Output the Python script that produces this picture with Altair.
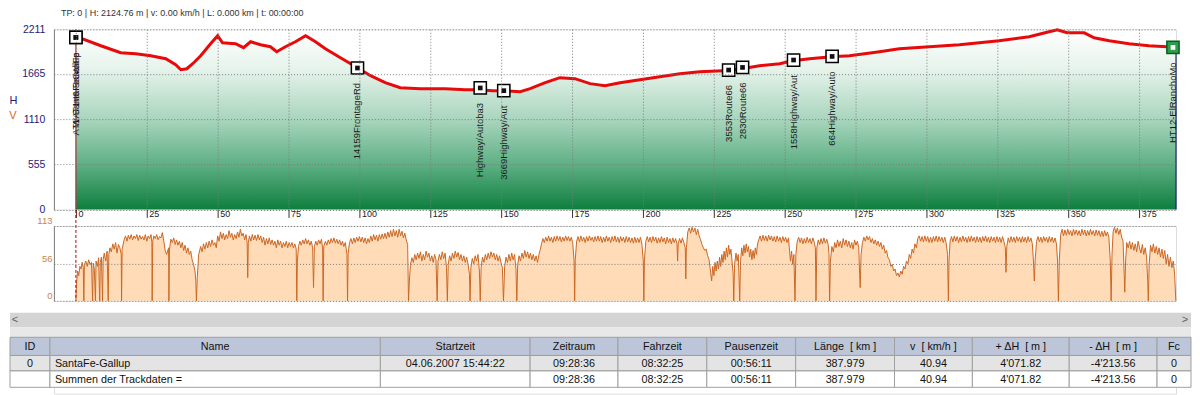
import altair as alt
import pandas as pd

# ---------------- data ----------------
header_text = "TP: 0 | H: 2124.76 m | v: 0.00 km/h | L: 0.000 km | t: 00:00:00"

elev_km = [0.0, 8.8, 15.8, 21.1, 26.4, 31.7, 35.2, 37.0, 39.1, 41.2,
           44.0, 47.5, 50.0, 51.7, 56.3, 59.1, 61.6, 65.1, 68.6, 70.8,
           73.9, 77.4, 81.0, 84.5, 88.0, 93.3, 99.3, 103.9, 109.1, 114.4,
           121.5, 130.3, 137.3, 142.6, 146.8, 151.0, 156.7, 160.2, 165.5, 170.7,
           176.0, 181.3, 186.6, 191.9, 198.9, 205.9, 213.0, 220.0, 230.2, 234.8,
           241.1, 248.2, 252.8, 258.7, 266.5, 272.8, 283.4, 290.4, 301.0, 311.6,
           325.6, 336.2, 343.2, 346.1, 349.6, 355.6, 359.1, 364.4, 371.4, 378.4,
           387.979]
elev_h = [2125, 2009, 1923, 1911, 1887, 1850, 1776, 1715, 1727, 1789,
          1887, 2034, 2132, 2046, 2034, 1985, 2058, 2021, 1997, 1936,
          1997, 2058, 2132, 2058, 1972, 1862, 1740, 1642, 1556, 1495,
          1482, 1482, 1470, 1470, 1458, 1458, 1446, 1482, 1556, 1617,
          1605, 1544, 1519, 1556, 1593, 1629, 1666, 1691, 1705, 1727,
          1764, 1789, 1825, 1850, 1874, 1887, 1936, 1972, 1997, 2021,
          2070, 2119, 2181, 2205, 2168, 2168, 2107, 2070, 2034, 2009,
          1991]

wp_km = [0.0, 0.0, 99.3, 142.6, 150.9, 230.2, 235.1, 253.1, 266.7, 386.9]
wp_h = [2111, 2111, 1736, 1491, 1458, 1711, 1743, 1834, 1878, 1988]
wp_name = ["WAT1n6-SantaFe", "AT1-SantaFeGallup", "14159FrontageRd", "Highway/Autoba3",
           "3669Highway/Aut", "3553Route66", "2830Route66", "1558Highway/Aut",
           "664Highway/Auto", "HT12-ElRanchoMo"]
wp_kind = ["wp"] * 9 + ["end"]

speed_profile = [
    (0.0, 0), (0.2, 25), (0.6, 45), (1.0, 38), (1.4, 52), (1.8, 48), (2.2, 58), (2.6, 50), (2.8, 0),
    (3.0, 55), (3.5, 60), (4.0, 52), (4.5, 62), (5.0, 55), (5.5, 58), (5.9, 0), (6.1, 57), (6.5, 48),
    (6.9, 0), (7.1, 60), (7.6, 52), (8.0, 65), (8.4, 0), (8.6, 58), (9.0, 66), (9.4, 0), (9.6, 62),
    (10.0, 72), (10.5, 60), (11.0, 75), (11.4, 0), (11.6, 70), (12.0, 80), (12.5, 74), (13.0, 86),
    (13.5, 78), (14.0, 88), (14.5, 72), (15.0, 85), (15.5, 80), (16.0, 70), (16.1, 0), (16.3, 78),
    (17.0, 92), (17.5, 98), (18.0, 90), (18.5, 99), (19.0, 93), (19.5, 100), (20.0, 92), (20.5, 98),
    (21.0, 94), (21.5, 100), (22.0, 91), (22.5, 99), (23.0, 93), (23.5, 97), (24.0, 92), (24.5, 100),
    (25.0, 90), (25.5, 98), (26.0, 94), (26.5, 100), (26.8, 88), (26.9, 0), (27.1, 90), (27.5, 98),
    (28.0, 94), (28.5, 100), (29.0, 92), (29.5, 97), (30.0, 95), (30.5, 103), (31.0, 90), (31.5, 76),
    (32.0, 70), (32.7, 80), (32.8, 0), (33.0, 78), (33.5, 93), (34.0, 88), (34.5, 95), (35.0, 85),
    (35.5, 92), (36.0, 84), (36.5, 90), (37.0, 80), (37.5, 88), (38.0, 76), (38.5, 84), (39.0, 72),
    (39.5, 80), (40.0, 70), (40.5, 75), (41.0, 62), (41.5, 55), (42.0, 45), (42.3, 30), (42.5, 0),
    (42.8, 35), (43.3, 70), (44.0, 82), (44.5, 74), (45.0, 86), (45.5, 78), (46.0, 88), (46.5, 80),
    (47.0, 90), (47.5, 82), (48.0, 92), (48.5, 84), (49.0, 88), (49.5, 80), (50.0, 98), (50.5, 90),
    (51.0, 104), (51.5, 94), (52.0, 102), (52.5, 92), (53.0, 100), (53.5, 94), (54.0, 106), (54.5, 96),
    (55.0, 102), (55.5, 92), (56.0, 100), (56.5, 94), (57.0, 104), (57.5, 96), (58.0, 108), (58.5, 98),
    (59.0, 102), (59.5, 92), (60.0, 100), (60.4, 88), (60.6, 35), (60.8, 88), (61.2, 98), (61.7, 90),
    (62.2, 100), (62.7, 92), (63.2, 99), (63.7, 91), (64.2, 100), (64.7, 92), (65.2, 98), (65.7, 88),
    (66.2, 96), (66.7, 84), (67.2, 94), (67.7, 86), (68.2, 95), (68.7, 85), (69.2, 92), (69.7, 84),
    (70.2, 90), (70.7, 80), (71.2, 92), (71.7, 84), (72.2, 90), (72.7, 80), (73.2, 88), (73.7, 82),
    (74.2, 90), (74.7, 80), (75.2, 88), (75.7, 82), (76.2, 88), (76.7, 80), (77.2, 86), (77.7, 78),
    (77.9, 0), (78.1, 60), (78.5, 82), (79.0, 90), (79.5, 84), (80.0, 92), (80.5, 86), (81.0, 94),
    (81.5, 86), (82.0, 92), (82.5, 84), (83.0, 90), (83.5, 80), (83.8, 20), (84.1, 82), (84.6, 90),
    (85.1, 84), (85.6, 92), (86.1, 86), (86.6, 93), (87.0, 80), (87.2, 0), (87.4, 82), (88.0, 90),
    (88.5, 84), (89.0, 92), (89.5, 86), (90.0, 94), (90.5, 88), (91.0, 95), (91.5, 87), (92.0, 93),
    (92.5, 86), (93.0, 92), (93.5, 84), (94.0, 90), (94.5, 82), (95.0, 88), (95.6, 70), (95.8, 0),
    (96.0, 72), (96.5, 88), (97.0, 94), (97.5, 86), (98.0, 95), (98.5, 88), (99.0, 96), (99.5, 90),
    (100.0, 97), (100.5, 89), (101.0, 96), (101.5, 88), (102.0, 95), (102.5, 86), (103.0, 94),
    (103.5, 88), (104.0, 98), (104.5, 90), (105.0, 100), (105.5, 92), (106.0, 99), (106.5, 90),
    (107.0, 100), (107.5, 93), (108.0, 101), (108.5, 94), (109.0, 102), (109.5, 94), (110.0, 104),
    (110.5, 96), (111.0, 106), (111.5, 97), (112.0, 108), (112.5, 98), (113.0, 106), (113.5, 96),
    (114.0, 108), (114.5, 98), (115.0, 105), (115.5, 95), (116.0, 102), (116.5, 92), (117.0, 85),
    (117.3, 0), (117.6, 30), (118.0, 55), (118.5, 65), (119.0, 58), (119.5, 70), (120.0, 62),
    (120.5, 72), (121.0, 64), (121.5, 74), (122.0, 60), (122.5, 70), (123.0, 62), (123.5, 75),
    (124.0, 66), (124.5, 72), (125.0, 60), (125.5, 68), (126.0, 58), (126.5, 70), (127.0, 62),
    (127.4, 0), (127.7, 60), (128.2, 70), (128.7, 62), (129.2, 74), (129.7, 64), (130.2, 72),
    (130.7, 50), (131.0, 0), (131.3, 55), (131.8, 68), (132.3, 60), (132.8, 72), (133.3, 64),
    (133.8, 75), (134.3, 66), (134.8, 73), (135.3, 62), (135.8, 70), (136.3, 60), (136.8, 68),
    (137.3, 58), (137.8, 66), (138.3, 55), (138.8, 40), (139.0, 0), (139.3, 50), (139.8, 64),
    (140.3, 56), (140.8, 68), (141.3, 60), (141.8, 70), (142.3, 45), (142.6, 0), (142.9, 50),
    (143.4, 66), (143.9, 58), (144.4, 70), (144.9, 62), (145.4, 72), (145.9, 64), (146.4, 74),
    (146.9, 66), (147.4, 72), (147.9, 62), (148.4, 70), (148.9, 60), (149.4, 68), (149.9, 58),
    (150.4, 50), (150.8, 0), (151.2, 52), (151.7, 66), (152.2, 58), (152.7, 70), (153.2, 60),
    (153.7, 72), (154.2, 62), (154.7, 70), (155.2, 48), (155.5, 0), (155.8, 55), (156.3, 68),
    (156.8, 60), (157.3, 72), (157.8, 64), (158.3, 76), (158.8, 66), (159.3, 74), (159.8, 64),
    (160.3, 72), (160.8, 62), (161.3, 70), (161.8, 60), (162.3, 68), (162.8, 58), (163.3, 70),
    (163.8, 78), (164.2, 86), (164.7, 94), (165.2, 88), (165.7, 96), (166.2, 90), (166.7, 98),
    (167.2, 90), (167.7, 96), (168.2, 88), (168.7, 97), (169.2, 90), (169.7, 98), (170.2, 91),
    (170.7, 97), (171.2, 89), (171.7, 96), (172.2, 90), (172.7, 98), (173.2, 91), (173.7, 97),
    (174.2, 90), (174.7, 96), (175.2, 88), (175.7, 60), (175.9, 0), (176.1, 62), (176.6, 90),
    (177.1, 97), (177.6, 89), (178.1, 98), (178.6, 90), (179.1, 96), (179.6, 88), (180.1, 97),
    (180.6, 90), (181.1, 98), (181.6, 91), (182.1, 96), (182.6, 89), (183.1, 97), (183.6, 90),
    (184.1, 98), (184.6, 90), (185.1, 97), (185.6, 88), (186.1, 96), (186.6, 89), (187.1, 98),
    (187.6, 90), (188.1, 96), (188.6, 88), (189.1, 97), (189.6, 90), (190.1, 98), (190.6, 89),
    (191.1, 96), (191.6, 88), (192.1, 97), (192.6, 90), (193.1, 96), (193.6, 88), (194.1, 97),
    (194.6, 89), (195.1, 96), (195.6, 88), (196.1, 95), (196.6, 87), (197.1, 96), (197.6, 88),
    (198.1, 95), (198.6, 88), (199.1, 96), (199.6, 86), (200.1, 60), (200.3, 0), (200.5, 62),
    (201.0, 90), (201.5, 97), (202.0, 89), (202.5, 96), (203.0, 88), (203.5, 97), (204.0, 90),
    (204.5, 96), (205.0, 87), (205.5, 95), (206.0, 88), (206.5, 97), (207.0, 89), (207.5, 95),
    (208.0, 86), (208.5, 96), (209.0, 88), (209.5, 94), (210.0, 86), (210.5, 95), (211.0, 88),
    (211.5, 94), (212.0, 86), (212.2, 60), (212.4, 86), (212.9, 94), (213.4, 87), (213.9, 95),
    (214.4, 88), (214.9, 80), (215.1, 33), (215.3, 80), (215.8, 104), (216.3, 110), (216.8, 102),
    (217.3, 111), (217.8, 104), (218.3, 110), (218.8, 100), (219.3, 108), (219.8, 98), (220.3, 92),
    (220.8, 85), (221.3, 80), (221.8, 76), (222.3, 78), (222.8, 68), (223.3, 62), (223.8, 45),
    (224.2, 30), (224.6, 52), (225.0, 38), (225.4, 58), (225.8, 45), (226.2, 60), (226.6, 48),
    (227.0, 66), (227.4, 52), (227.8, 70), (228.2, 58), (228.6, 75), (229.0, 62), (229.4, 80),
    (229.8, 66), (230.2, 84), (230.6, 70), (231.0, 78), (231.4, 60), (231.8, 40), (232.0, 0),
    (232.3, 55), (232.8, 72), (233.2, 60), (233.6, 70), (233.9, 30), (234.1, 0), (234.4, 60),
    (234.8, 80), (235.2, 68), (235.6, 84), (236.0, 72), (236.4, 86), (236.8, 74), (237.2, 82),
    (237.6, 66), (238.0, 78), (238.4, 62), (238.8, 76), (239.2, 64), (239.6, 80), (240.0, 70),
    (240.4, 86), (240.8, 92), (241.3, 98), (241.8, 90), (242.3, 99), (242.8, 91), (243.3, 98),
    (243.8, 90), (244.3, 99), (244.8, 92), (245.3, 98), (245.8, 90), (246.3, 97), (246.8, 89),
    (247.3, 98), (247.8, 90), (248.3, 96), (248.8, 88), (249.3, 97), (249.8, 90), (250.3, 96),
    (250.8, 88), (251.3, 95), (251.6, 80), (252.0, 60), (252.4, 75), (252.8, 55), (253.2, 70),
    (253.6, 0), (253.9, 70), (254.4, 90), (254.9, 96), (255.4, 88), (255.9, 95), (256.4, 86),
    (256.9, 94), (257.4, 87), (257.9, 96), (258.4, 88), (258.9, 94), (259.4, 86), (259.9, 95),
    (260.4, 88), (260.8, 80), (261.0, 0), (261.3, 80), (261.8, 92), (262.3, 85), (262.8, 94),
    (263.3, 86), (263.8, 95), (264.3, 87), (264.8, 93), (265.3, 85), (265.6, 70), (265.8, 0),
    (266.1, 60), (266.6, 82), (267.1, 74), (267.6, 88), (268.1, 80), (268.6, 92), (269.1, 82),
    (269.6, 90), (270.1, 80), (270.6, 94), (271.1, 84), (271.6, 92), (272.1, 82), (272.6, 90),
    (273.1, 80), (273.6, 88), (274.1, 78), (274.6, 92), (275.1, 84), (275.6, 90), (276.1, 80),
    (276.4, 40), (276.6, 20), (276.9, 70), (277.4, 88), (277.9, 96), (278.4, 90), (278.9, 98),
    (279.4, 92), (279.9, 97), (280.4, 88), (280.9, 94), (281.4, 86), (281.9, 92), (282.4, 84),
    (282.9, 90), (283.4, 82), (283.9, 88), (284.4, 78), (284.9, 84), (285.4, 72), (285.9, 76),
    (286.4, 65), (286.9, 62), (287.4, 52), (287.9, 55), (288.4, 45), (288.9, 48), (289.4, 38),
    (289.9, 42), (290.4, 36), (290.9, 45), (291.4, 40), (291.9, 52), (292.4, 48), (292.9, 60),
    (293.4, 56), (293.9, 70), (294.4, 64), (294.9, 78), (295.4, 72), (295.9, 86), (296.4, 80),
    (296.9, 94), (297.4, 98), (297.9, 90), (298.4, 97), (298.9, 89), (299.4, 98), (299.9, 90),
    (300.4, 97), (300.9, 88), (301.4, 96), (301.9, 88), (302.4, 97), (302.9, 90), (303.4, 98),
    (303.9, 89), (304.4, 97), (304.9, 90), (305.4, 96), (305.9, 88), (306.4, 96), (306.9, 88),
    (307.4, 70), (307.7, 0), (307.9, 60), (308.3, 90), (308.8, 97), (309.3, 89), (309.8, 98),
    (310.3, 90), (310.8, 97), (311.3, 88), (311.8, 96), (312.3, 89), (312.8, 98), (313.3, 90),
    (313.8, 96), (314.3, 88), (314.8, 97), (315.3, 89), (315.8, 98), (316.3, 90), (316.8, 96),
    (317.3, 88), (317.8, 97), (318.3, 89), (318.8, 96), (319.3, 88), (319.8, 97), (320.3, 90),
    (320.8, 98), (321.3, 89), (321.8, 96), (322.3, 88), (322.8, 97), (323.3, 90), (323.8, 96),
    (324.3, 88), (324.8, 97), (325.3, 89), (325.8, 96), (326.3, 88), (326.8, 97), (327.3, 89),
    (327.8, 80), (328.0, 43), (328.3, 82), (328.8, 95), (329.3, 88), (329.8, 97), (330.3, 89),
    (330.8, 96), (331.3, 88), (331.8, 97), (332.3, 90), (332.8, 96), (333.3, 88), (333.8, 97),
    (334.3, 89), (334.8, 96), (335.3, 88), (335.8, 97), (336.3, 89), (336.8, 95), (337.3, 86),
    (337.7, 60), (338.0, 30), (338.3, 62), (338.8, 90), (339.3, 97), (339.8, 89), (340.3, 96),
    (340.8, 88), (341.3, 97), (341.8, 90), (342.3, 96), (342.8, 88), (343.3, 97), (343.8, 89),
    (344.3, 96), (344.8, 88), (345.3, 95), (345.8, 86), (346.2, 60), (346.5, 0), (346.8, 60),
    (347.3, 100), (347.8, 108), (348.3, 98), (348.8, 107), (349.3, 99), (349.8, 108), (350.3, 100),
    (350.8, 106), (351.3, 98), (351.8, 108), (352.3, 100), (352.8, 107), (353.3, 99), (353.8, 106),
    (354.3, 98), (354.8, 108), (355.3, 100), (355.8, 107), (356.3, 98), (356.8, 106), (357.3, 99),
    (357.8, 108), (358.3, 100), (358.8, 106), (359.3, 98), (359.8, 107), (360.3, 99), (360.8, 106),
    (361.3, 97), (361.8, 105), (362.3, 97), (362.8, 106), (363.3, 98), (363.8, 104), (364.3, 96),
    (364.8, 60), (365.1, 0), (365.4, 70), (365.8, 104), (366.3, 111), (366.8, 102), (367.3, 110),
    (367.8, 100), (368.3, 108), (368.8, 96), (369.3, 90), (369.7, 40), (369.9, 13), (370.2, 60),
    (370.6, 88), (371.1, 80), (371.6, 90), (372.1, 78), (372.6, 88), (373.1, 76), (373.6, 86),
    (374.1, 74), (374.6, 90), (375.1, 80), (375.6, 72), (376.1, 85), (376.6, 70), (377.1, 80),
    (377.6, 66), (378.0, 30), (378.2, 0), (378.5, 55), (379.0, 84), (379.5, 74), (380.0, 86),
    (380.5, 72), (381.0, 82), (381.5, 70), (382.0, 80), (382.5, 66), (383.0, 78), (383.5, 64),
    (384.0, 76), (384.5, 56), (385.0, 70), (385.5, 52), (386.0, 66), (386.5, 50), (387.0, 60),
    (387.5, 40), (387.9, 0),
]

x_ticks = list(range(0, 376, 25))
h_ticks = [0, 555, 1110, 1665, 2211]
v_ticks = [0, 56, 113]

table_headers = ["ID", "Name", "Startzeit", "Zeitraum", "Fahrzeit", "Pausenzeit",
                 "L\u00e4nge\u00a0 [ km ]", "v\u00a0 [ km/h ]", "+ \u0394H\u00a0 [ m ]",
                 "- \u0394H\u00a0 [ m ]", "Fc"]
table_row1 = ["0", "SantaFe-Gallup", "04.06.2007 15:44:22", "09:28:36", "08:32:25", "00:56:11",
              "387.979", "40.94", "4'071.82", "-4'213.56", "0"]
table_row2 = ["", "Summen der Trackdaten =", "", "09:28:36", "08:32:25", "00:56:11",
              "387.979", "40.94", "4'071.82", "-4'213.56", "0"]

# ---------------- layout constants ----------------
KM_MIN, KM_MAX = -7.75, 387.979
PX_PER_KM = 2.8406
W = round((KM_MAX - KM_MIN) * PX_PER_KM)
H1, H2, H3 = 180.5, 75, 77
GAP = 16
col_edges = [0, 49, 380, 530, 618, 707, 796, 895, 973, 1070, 1158, 1197]
row_edges = [338, 358, 375, 393]
row_fills = ["#BCC6D8", "#E4E4E4", "#FFFFFF"]
FONT = "Liberation Sans"
GRID = dict(grid=True, gridColor="#7c7c7c", gridDash=[1, 2], gridWidth=1)

# ---------------- panel 1 : elevation ----------------
elev_df = pd.DataFrame({"km": elev_km, "h": elev_h})
wp_df = pd.DataFrame({"km": wp_km, "h": wp_h, "name": wp_name, "kind": wp_kind})
end_df = pd.DataFrame({"km": [elev_km[-1]], "h": [elev_h[-1]]})

x_scale = alt.Scale(domain=[KM_MIN, KM_MAX], nice=False, zero=False)
h_scale = alt.Scale(domain=[0, 2211], nice=False)

x_axis = alt.Axis(values=x_ticks, domain=False, ticks=True, tickSize=8, tickColor="#333333",
                  labelAlign="left", labelBaseline="top", labelPadding=-8, labelOffset=2,
                  labelFontSize=9, labelColor="#222222", title=None, zindex=1, **GRID)
h_axis = alt.Axis(values=h_ticks, format="d", domain=True, domainColor="#808080", ticks=False,
                  labelPadding=9, labelFontSize=10.5, labelColor="#1C1C78",
                  title="H", titleAngle=0, titleX=-41, titleY=71.5, titleColor="#1C1C78",
                  titleFontSize=11, titleFontWeight="normal", titleAlign="center",
                  titleBaseline="middle", zindex=1, **GRID)

gradient = {
    "gradient": "linear", "x1": 0, "x2": 0, "y1": 0, "y2": 1,
    "stops": [
        {"offset": 0.0, "color": "#FFFFFF"},
        {"offset": 0.22, "color": "#E6F3EB"},
        {"offset": 0.5, "color": "#A8D5BD"},
        {"offset": 0.75, "color": "#5EB084"},
        {"offset": 1.0, "color": "#0E7E3E"},
    ],
}

one = pd.DataFrame({"k": [0]})
bg = alt.Chart(one).mark_rect(color="white").encode(
    x=alt.value(-45), x2=alt.value(W + 15), y=alt.value(-20.5), y2=alt.value(0))
area = alt.Chart(elev_df).mark_area(color=gradient, interpolate="linear").encode(
    x=alt.X("km:Q", scale=x_scale, axis=x_axis),
    y=alt.Y("h:Q", scale=h_scale, axis=h_axis))
cursor = alt.Chart(pd.DataFrame({"km": [0.0]})).mark_rule(color="#D00000", strokeWidth=1).encode(
    x="km:Q")
end_rule = alt.Chart(end_df).mark_rule(color="#1A237E", strokeWidth=1.2).encode(
    x="km:Q", y="h:Q", y2=alt.datum(0))
line = alt.Chart(elev_df).mark_line(color="#E80A0A", strokeWidth=3).encode(x="km:Q", y="h:Q")
is_end = "datum.kind == 'end'"
boxes = alt.Chart(wp_df).mark_square(size=150, strokeWidth=1.5, filled=True, opacity=1).encode(
    x="km:Q", y="h:Q",
    fill=alt.condition(is_end, alt.value("#2E9E4A"), alt.value("#FFFFFF")),
    stroke=alt.condition(is_end, alt.value("#0B5E1E"), alt.value("#000000")))
dots = alt.Chart(wp_df).mark_square(size=22, filled=True, opacity=1).encode(
    x="km:Q", y="h:Q",
    color=alt.condition(is_end, alt.value("#FFFFFF"), alt.value("#111111")))
labels = alt.Chart(wp_df).mark_text(angle=270, align="right", baseline="middle", dx=-15,
                                    fontSize=9.5, color="#1A1A1A").encode(
    x="km:Q", y="h:Q", text="name:N")
v_label = alt.Chart(pd.DataFrame({"t": ["V"]})).mark_text(
    color="#D2691E", fontSize=11, align="center", baseline="middle").encode(
    x=alt.value(-41), y=alt.value(86.5), text="t:N")
header = alt.Chart(pd.DataFrame({"t": [header_text]})).mark_text(
    fontSize=9, align="left", baseline="middle", color="#333333").encode(
    x=alt.value(7), y=alt.value(-16), text="t:N")

panel1 = alt.layer(bg, area, cursor, end_rule, line, boxes, dots, labels, v_label, header
                   ).properties(width=W, height=H1)

# ---------------- panel 2 : speed ----------------
speed_df = pd.DataFrame(speed_profile, columns=["km", "v"])
v_scale = alt.Scale(domain=[0, 113], nice=False)
v_axis = alt.Axis(values=v_ticks, format="d", domain=True, domainColor="#808080", ticks=False,
                  labelPadding=2, labelFontSize=9.5, labelColor="#C8864B",
                  labelBaseline="bottom", title=None, zindex=1, **GRID)
s_area = alt.Chart(speed_df).mark_area(
    color="#FFCC99", interpolate="linear",
    line={"color": "#CC6622", "strokeWidth": 1}).encode(
    x=alt.X("km:Q", scale=alt.Scale(domain=[KM_MIN, KM_MAX], nice=False, zero=False), axis=None),
    y=alt.Y("v:Q", scale=v_scale, axis=v_axis))
s_cursor = alt.Chart(pd.DataFrame({"km": [0.0]})).mark_rule(
    color="#B00000", strokeWidth=1, strokeDash=[3, 2]).encode(
    x="km:Q", y=alt.value(-16), y2=alt.value(H2))
panel2 = alt.layer(s_area, s_cursor).properties(width=W, height=H2)

# ---------------- panel 3 : table ----------------
LEFT_PAGE, TOP_PAGE = 53, 8 + 20.5 + H1 + GAP + H2 + GAP
px_x = alt.Scale(domain=[0, 1200], range=[-LEFT_PAGE, 1200 - LEFT_PAGE])
px_y = alt.Scale(domain=[TOP_PAGE - 5, TOP_PAGE - 5 + 82], range=[-5, 77])

def clamp(e):
    return max(9, min(1192, e))

chrome_df = pd.DataFrame({
    "x1": [clamp(0), clamp(0)], "x2": [clamp(1197), clamp(1197)],
    "y1": [311, 327], "y2": [327, 338], "fill": ["#D4D4D4", "#E8E8E8"]})
cells = []
for r, vals in enumerate([table_headers, table_row1, table_row2]):
    for c, v in enumerate(vals):
        x1, x2 = clamp(col_edges[c]), clamp(col_edges[c + 1])
        left = r > 0 and c == 1
        cells.append({"x1": x1, "x2": x2, "y1": row_edges[r], "y2": row_edges[r + 1],
                      "fill": row_fills[r], "text": v, "left": left,
                      "tx": x1 + 5 if left else (x1 + x2) / 2,
                      "ty": (row_edges[r] + row_edges[r + 1]) / 2 + 0.5})
cells_df = pd.DataFrame(cells)
arrows_df = pd.DataFrame({"tx": [14, 1186], "ty": [319, 319], "text": ["<", ">"]})

chrome = alt.Chart(chrome_df).mark_rect().encode(
    x=alt.X("x1:Q", scale=px_x, axis=None), x2="x2:Q",
    y=alt.Y("y1:Q", scale=px_y, axis=None), y2="y2:Q",
    fill=alt.Fill("fill:N", scale=None))
cell_rects = alt.Chart(cells_df).mark_rect(stroke="#A0A0A0", strokeWidth=1).encode(
    x="x1:Q", x2="x2:Q", y="y1:Q", y2="y2:Q", fill=alt.Fill("fill:N", scale=None))
cell_text_c = alt.Chart(cells_df).transform_filter("!datum.left").mark_text(
    align="center", baseline="middle", fontSize=10.8, color="#111111").encode(
    x="tx:Q", y="ty:Q", text="text:N")
cell_text_l = alt.Chart(cells_df).transform_filter("datum.left").mark_text(
    align="left", baseline="middle", fontSize=10.8, color="#111111").encode(
    x="tx:Q", y="ty:Q", text="text:N")
arrows = alt.Chart(arrows_df).mark_text(
    align="center", baseline="middle", fontSize=11, color="#606060").encode(
    x="tx:Q", y="ty:Q", text="text:N")
panel3 = alt.layer(chrome, cell_rects, cell_text_c, cell_text_l, arrows
                   ).properties(width=W, height=H3)

chart = alt.vconcat(panel1, panel2, panel3, spacing=GAP, bounds="flush").resolve_scale(
    x="independent", y="independent"
).properties(
    padding=0, autosize=alt.AutoSizeParams(type="pad"),
).configure_view(stroke=None).configure(font=FONT, background="white")

chart.save("out.html", embed_options={"renderer": "svg", "actions": False})
